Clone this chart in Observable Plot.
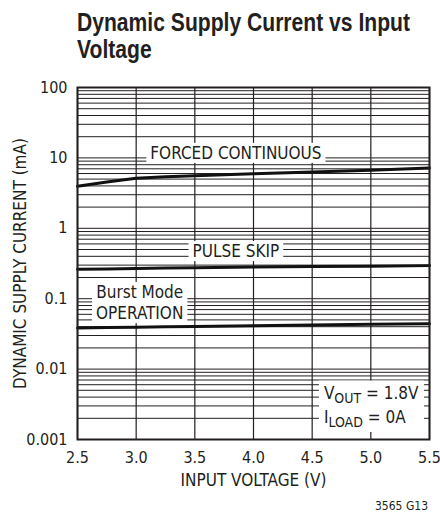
<!DOCTYPE html>
<html><head><meta charset="utf-8">
<script src="https://cdn.jsdelivr.net/npm/d3@7"></script>
<script src="https://cdn.jsdelivr.net/npm/@observablehq/plot@0.6"></script>
<style>
body{margin:0;background:#fff;width:440px;height:516px;position:relative;overflow:hidden;font-family:"DejaVu Sans Condensed",sans-serif;color:#231f20;}
#title{position:absolute;left:77px;top:9px;font-family:"Liberation Sans",Arial,sans-serif;font-weight:bold;font-size:25px;line-height:27px;white-space:nowrap;transform-origin:0 0;}
#chart{position:absolute;left:0;top:70px;}
#code{position:absolute;right:12px;top:499px;font-size:12px;}
</style></head><body>
<div id="title"><span id="t1">Dynamic Supply Current vs Input</span><br>Voltage</div>
<div id="chart"></div>
<div id="code">3565 G13</div>
<script>
const voltage = [2.5, 2.75, 3.0, 3.25, 3.5, 4.0, 4.5, 5.0, 5.5];
const forcedContinuous = [3.95, 4.55, 5.15, 5.4, 5.6, 5.95, 6.3, 6.7, 7.2];
const pulseSkip = [0.262, 0.265, 0.268, 0.272, 0.275, 0.282, 0.286, 0.290, 0.295];
const burstMode = [0.0384, 0.0389, 0.0394, 0.0399, 0.0404, 0.0413, 0.0423, 0.0432, 0.0442];

const xTicks = [2.5, 3.0, 3.5, 4.0, 4.5, 5.0, 5.5];
const yTicks = [0.001, 0.01, 0.1, 1, 10, 100];

const labelText = ["FORCED CONTINUOUS", "PULSE SKIP", "Burst Mode\nOPERATION"];
const labelX = [3.85, 3.85, 3.03];
const labelY = [12.1, 0.487, 0.0906];

const noteText = ["V_OUT = 1.8V", "I_LOAD = 0A"];
const noteX = [4.6, 4.6];
const noteY = [0.00456, 0.00205];

// fit title's first line to the reference width (condensed look)
const t1 = document.getElementById("t1");
const w1 = t1.getBoundingClientRect().width;
document.getElementById("title").style.transform = `scaleX(${333 / w1})`;

const series = [forcedContinuous, pulseSkip, burstMode];
const lineData = series.flatMap((s, k) => voltage.map((v, i) => ({v, c: s[i], k})));
const labels = labelText.map((t, i) => ({t, x: labelX[i], y: labelY[i]}));
const notes = noteText.map((t, i) => ({t, x: noteX[i], y: noteY[i]}));

const ink = "#231f20";
const chart = Plot.plot({
  width: 440, height: 446,
  marginLeft: 77, marginRight: 11, marginTop: 17, marginBottom: 77,
  style: {fontFamily: '"DejaVu Sans Condensed",sans-serif', fontSize: "16px", color: ink, background: "white"},
  x: {domain: [2.5, 5.5], ticks: xTicks, tickFormat: d => d.toFixed(1), tickSize: 0, tickPadding: 12,
      label: "INPUT VOLTAGE (V)", labelAnchor: "center", labelArrow: "none", labelOffset: 46},
  y: {type: "log", domain: [0.001, 100], ticks: yTicks, tickFormat: d => String(d), tickSize: 0, tickPadding: 10,
      label: "DYNAMIC SUPPLY CURRENT (mA)", labelAnchor: "center", labelArrow: "none", labelOffset: 64},
  marks: [
    Plot.gridY({ticks: 60, stroke: ink, strokeOpacity: 1, strokeWidth: 1}),
    Plot.gridX({ticks: xTicks, stroke: ink, strokeOpacity: 1, strokeWidth: 1.2}),
    Plot.line(lineData, {x: "v", y: "c", z: "k", stroke: "#111", strokeWidth: 3}),
    Plot.text(labels, {x: "x", y: "y", text: "t", fontSize: 17, fill: ink, lineHeight: 1.25, className: "lbl"}),
    Plot.text(notes, {x: "x", y: "y", text: "t", fontSize: 17, fill: ink, textAnchor: "start", className: "note"}),
    Plot.frame({stroke: ink, strokeWidth: 2})
  ]
});
document.getElementById("chart").append(chart);

// slightly larger axis titles than tick labels, as in the reference
chart.querySelectorAll('g[aria-label="x-axis label"], g[aria-label="y-axis label"]').forEach(g => g.setAttribute("font-size", "17"));

const ns = "http://www.w3.org/2000/svg";
chart.querySelectorAll("g.note text").forEach(t => {
  const m = t.textContent.match(/^(\w)_(\w+)(.*)$/);
  if (!m) return;
  t.textContent = "";
  const a = document.createElementNS(ns, "tspan"); a.textContent = m[1];
  const b = document.createElementNS(ns, "tspan"); b.textContent = m[2];
  b.setAttribute("dy", "4"); b.setAttribute("font-size", "14");
  const c = document.createElementNS(ns, "tspan"); c.textContent = m[3]; c.setAttribute("dy", "-4");
  t.append(a, b, c);
});
chart.querySelectorAll("g.lbl text").forEach(t => {
  const bb = t.getBBox();
  const tr = t.getAttribute("transform");
  const g = document.createElementNS(ns, "g");
  if (tr) g.setAttribute("transform", tr);
  t.parentNode.insertBefore(g, t);
  const r = document.createElementNS(ns, "rect");
  r.setAttribute("x", bb.x - 4); r.setAttribute("y", bb.y);
  r.setAttribute("width", bb.width + 8); r.setAttribute("height", bb.height);
  r.setAttribute("fill", "white");
  g.append(r);
});
chart.querySelectorAll("g.note").forEach(g => {
  const bb = g.getBBox();
  const r = document.createElementNS(ns, "rect");
  r.setAttribute("x", bb.x - 5); r.setAttribute("y", bb.y - 2);
  r.setAttribute("width", bb.width + 10); r.setAttribute("height", bb.height + 4);
  r.setAttribute("fill", "white");
  g.insertBefore(r, g.firstChild);
});
</script>
</body></html>
